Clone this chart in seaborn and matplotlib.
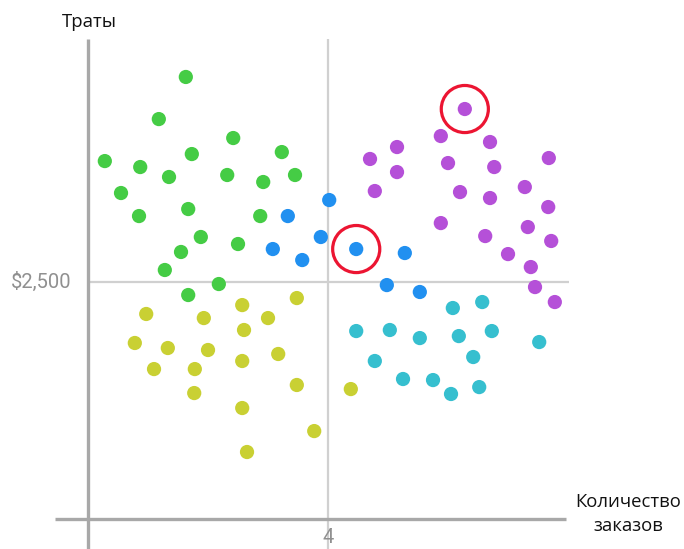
import numpy as np
import pandas as pd
import matplotlib
matplotlib.use("Agg")
import matplotlib.pyplot as plt
import seaborn as sns

# --- data: (orders, spend in $) per cluster ---
green_x = [1.63, 1.18, 2.42, 1.73, 3.23, 0.28, 0.87, 1.35, 2.32, 2.92, 3.45,
           0.55, 1.67, 0.85, 2.87, 1.88, 2.50, 1.55, 1.28, 1.67, 2.18]
green_y = [4663, 4219, 4019, 3850, 3871, 3776, 3713, 3608, 3629, 3555, 3629,
           3439, 3270, 3196, 3196, 2975, 2901, 2817, 2627, 2363, 2479]

blue_x = [4.02, 3.33, 3.88, 3.08, 3.57, 4.47, 5.28, 4.98, 5.53]
blue_y = [3365, 3196, 2975, 2848, 2732, 2848, 2806, 2468, 2395]

purple_x = [6.28, 5.88, 5.15, 6.70, 4.70, 7.68, 5.15, 6.00, 6.77, 4.78, 7.28,
            6.20, 6.70, 7.67, 5.88, 7.33, 6.62, 7.72, 7.00, 7.38, 7.45, 7.78]
purple_y = [4325, 4040, 3924, 3977, 3798, 3808, 3660, 3755, 3713, 3460, 3502,
            3449, 3386, 3291, 3122, 3080, 2985, 2933, 2795, 2658, 2447, 2289]

cyan_x = [6.08, 6.57, 4.47, 5.03, 5.53, 6.18, 6.73, 7.52, 4.78, 6.42,
          5.25, 5.75, 6.05, 6.52]
cyan_y = [2226, 2289, 1983, 1994, 1909, 1930, 1983, 1867, 1667, 1709,
          1477, 1466, 1319, 1392]

yellow_x = [3.48, 2.57, 0.97, 1.93, 3.00, 2.60, 0.78, 1.33, 2.00, 3.17,
            1.10, 1.78, 2.57, 1.77, 3.48, 2.57, 3.77, 2.65, 4.38]
yellow_y = [2331, 2257, 2163, 2120, 2120, 1994, 1857, 1804, 1783, 1741,
            1582, 1582, 1667, 1329, 1414, 1171, 928, 707, 1371]

# points circled in red: (cluster, index)
highlight = [("purple", 0), ("blue", 5)]

x_split = 4
y_split = 2500
x_label = "Количество\nзаказов"
y_label = "Траты"

palette = {"green": "#45cc45", "yellow": "#c9d033", "blue": "#2190f0",
           "purple": "#b550d8", "cyan": "#36bfcf"}

clusters = {"green": (green_x, green_y), "yellow": (yellow_x, yellow_y),
            "blue": (blue_x, blue_y), "purple": (purple_x, purple_y),
            "cyan": (cyan_x, cyan_y)}

rows = []
for name, (xs, ys) in clusters.items():
    for xv, yv in zip(xs, ys):
        rows.append({"orders": xv, "spend": yv, "cluster": name})
df = pd.DataFrame(rows)

sns.set_style("white")
fig = plt.figure(figsize=(6.84, 5.49), dpi=100)
ax = fig.add_axes([0, 0, 1, 1])

# limits chosen so the plot sits where it does in the picture
ax.set_xlim(-1.467, 9.933)
ax.set_ylim(-316, 5475)

axis_col = "#a8a8a8"
grid_col = "#d0d0d0"
ax.vlines(x_split, -316, 5060, color=grid_col, lw=1.6, zorder=1)
ax.hlines(y_split, 0, 8.02, color=grid_col, lw=1.6, zorder=1)
ax.vlines(0, -316, 5060, color=axis_col, lw=2.4, zorder=2)
ax.hlines(0, -0.55, 7.97, color=axis_col, lw=2.4, zorder=2)

sns.scatterplot(data=df, x="orders", y="spend", hue="cluster",
                palette=palette, s=105, edgecolor="none", legend=False,
                ax=ax, zorder=3)

hx = [clusters[c][0][i] for c, i in highlight]
hy = [clusters[c][1][i] for c, i in highlight]
ax.scatter(hx, hy, s=1150, facecolors="none", edgecolors="#ec1532",
           linewidths=2.3, zorder=4)

for s in ax.spines.values():
    s.set_visible(False)
ax.set_xticks([])
ax.set_yticks([])
ax.set_xlabel("")
ax.set_ylabel("")

tick_font = dict(family="Roboto", fontsize=14.5, color="#909090")
ax.text(-0.27, y_split, "$2,500", ha="right", va="center", **tick_font)
ax.text(x_split, -190, "4", ha="center", va="center", **tick_font)

lab_font = dict(family="Open Sans", fontsize=13.3, color="#111111")
fig.text(89 / 684, 1 - 22 / 549, y_label, ha="center", va="center", **lab_font)
fig.text(628 / 684, 1 - 514 / 549, x_label, ha="center", va="center",
         linespacing=1.45, **lab_font)

fig.savefig("out.png", dpi=100)
